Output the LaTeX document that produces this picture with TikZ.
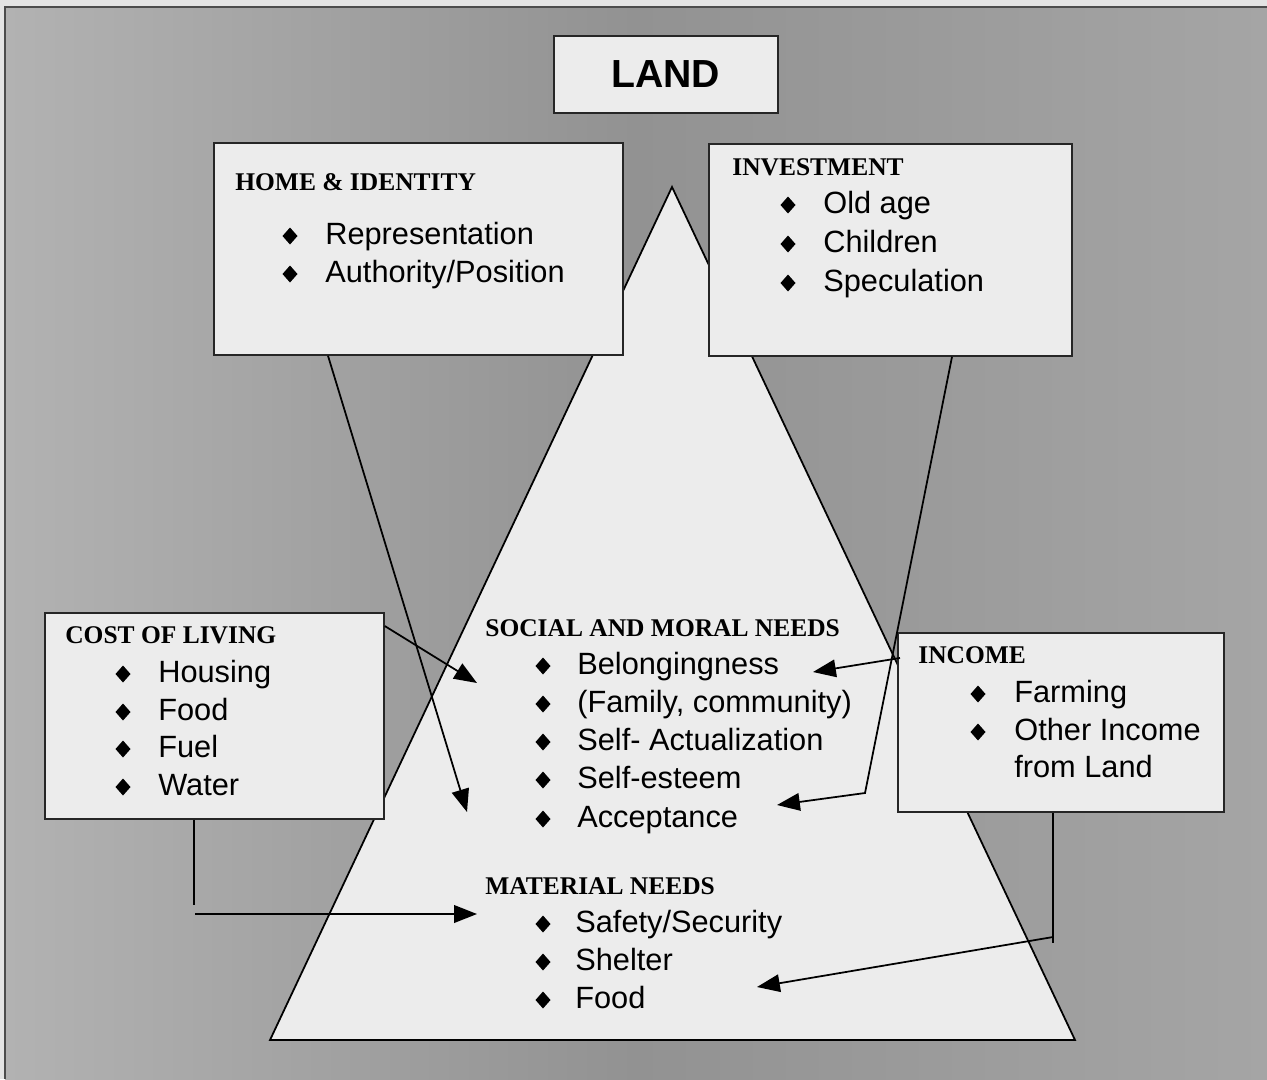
\documentclass[tikz,border=0pt]{standalone}
\usepackage{fontspec}
\setmainfont{Liberation Sans}
\newfontfamily\headserif{Liberation Serif}
\usetikzlibrary{arrows.meta,calc}
\definecolor{bgmid}{RGB}{146,146,146}
\definecolor{bgleft}{RGB}{178,178,178}
\definecolor{bgright}{RGB}{165,165,165}
\definecolor{paper}{RGB}{236,236,236}
\definecolor{topstrip}{RGB}{228,228,228}
\newcommand{\dmd}[2]{\fill (#1,#2-16.5) -- (#1+7.5,#2-8) -- (#1,#2+0.5) -- (#1-7.5,#2-8) -- cycle;}
\begin{document}
\begin{tikzpicture}[x=0.02cm,y=-0.02cm,
  boxstyle/.style={draw=black!85, line width=1pt, fill=paper, inner sep=0pt, anchor=north west},
  headtext/.style={anchor=base west, inner sep=0pt, font=\headserif\bfseries\fontsize{14.5pt}{16pt}\selectfont},
  itemtext/.style={anchor=base west, inner sep=0pt, font=\fontsize{17.5pt}{20pt}\selectfont},
  conn/.style={draw=black, line width=1pt},
  arr/.style={conn, -{Triangle[length=13pt,width=10pt]}},
]
\useasboundingbox (0,0) rectangle (1267,1079);
\fill[topstrip] (0,0) rectangle (1267,1079);
\shade[left color=bgleft, right color=bgright, middle color=bgmid] (5,7) rectangle (1267,1079);
\draw[line width=1pt, black!70] (5,1079) -- (5,7) -- (1267,7);

% pyramid
\draw[conn, fill=paper] (672,187) coordinate (apex) -- (1075,1040) coordinate (baseR) -- (270,1040) coordinate (baseL) -- cycle;

% boxes
\node[boxstyle, minimum width=224*0.02cm, minimum height=77*0.02cm,
      font=\bfseries\fontsize{22.3pt}{24pt}\selectfont] (land) at (553,35) {LAND};
\node[boxstyle, minimum width=409*0.02cm, minimum height=212*0.02cm] (home) at (213,142) {};
\node[boxstyle, minimum width=363*0.02cm, minimum height=212*0.02cm] (invest) at (708,143) {};
\node[boxstyle, minimum width=339*0.02cm, minimum height=206*0.02cm] (cost) at (44,612) {};
\node[boxstyle, minimum width=326*0.02cm, minimum height=179*0.02cm] (income) at (897,632) {};

% HOME & IDENTITY
\node[headtext] (homeH) at (235,190) {HOME \& IDENTITY};
\dmd{290}{244}\node[itemtext] (home1) at (325,244) {Representation};
\dmd{290}{282}\node[itemtext] (home2) at (325,282) {Authority/Position};

% INVESTMENT
\node[headtext] (investH) at (732,175) {INVESTMENT};
\dmd{788}{213}\node[itemtext] (invest1) at (823,213) {Old age};
\dmd{788}{252}\node[itemtext] (invest2) at (823,252) {Children};
\dmd{788}{291}\node[itemtext] (invest3) at (823,291) {Speculation};

% COST OF LIVING
\node[headtext] (costH) at (65,643) {COST OF LIVING};
\dmd{123}{682}\node[itemtext] (cost1) at (158,682) {Housing};
\dmd{123}{720}\node[itemtext] (cost2) at (158,720) {Food};
\dmd{123}{757}\node[itemtext] (cost3) at (158,757) {Fuel};
\dmd{123}{795}\node[itemtext] (cost4) at (158,795) {Water};

% INCOME
\node[headtext] (incomeH) at (918,663) {INCOME};
\dmd{978}{702}\node[itemtext] (income1) at (1014,702) {Farming};
\dmd{978}{740}\node[itemtext] (income2) at (1014,740) {Other Income};
\node[itemtext] (income3) at (1014,777) {from Land};

% SOCIAL AND MORAL NEEDS
\node[headtext] (socialH) at (485,636) {SOCIAL AND MORAL NEEDS};
\dmd{543}{674}\node[itemtext] (social1) at (577,674) {Belongingness};
\dmd{543}{712}\node[itemtext] (social2) at (577,712) {(Family, community)};
\dmd{543}{750}\node[itemtext] (social3) at (577,750) {Self- Actualization};
\dmd{543}{788}\node[itemtext] (social4) at (577,788) {Self-esteem};
\dmd{543}{827}\node[itemtext] (social5) at (577,827) {Acceptance};

% MATERIAL NEEDS
\node[headtext] (materialH) at (485,894) {MATERIAL NEEDS};
\dmd{543}{932}\node[itemtext] (material1) at (575,932) {Safety/Security};
\dmd{543}{970}\node[itemtext] (material2) at (575,970) {Shelter};
\dmd{543}{1008}\node[itemtext] (material3) at (575,1008) {Food};

% connector end points
\coordinate (tipHome) at (467,812);
\coordinate (tipCost) at (477,683);
\coordinate (costDown) at (194,905);
\coordinate (costFoot) at (195,914);
\coordinate (tipCostMat) at (477,914);
\coordinate (investBend) at (865,793);
\coordinate (tipInvest) at (777,805);
\coordinate (tipIncome) at (813,672);
\coordinate (incomeDown) at (1053,943);
\coordinate (incomeFoot) at (1053,937);
\coordinate (tipIncomeMat) at (757,987);

% connectors
\draw[arr] ($(home.south west)+(115,0)$) -- (tipHome);
\draw[arr] ($(cost.north east)+(0,14)$) -- (tipCost);
\draw[conn] ($(cost.south west)+(150,0)$) -- (costDown);
\draw[arr] (costFoot) -- (tipCostMat);
\draw[arr] ($(invest.south west)+(244,0)$) -- (investBend) -- (tipInvest);
\draw[arr] ($(income.north west)+(3,26)$) -- (tipIncome);
\draw[conn] ($(income.south west)+(156,0)$) -- (incomeDown);
\draw[arr] (incomeFoot) -- (tipIncomeMat);
\end{tikzpicture}
\end{document}
